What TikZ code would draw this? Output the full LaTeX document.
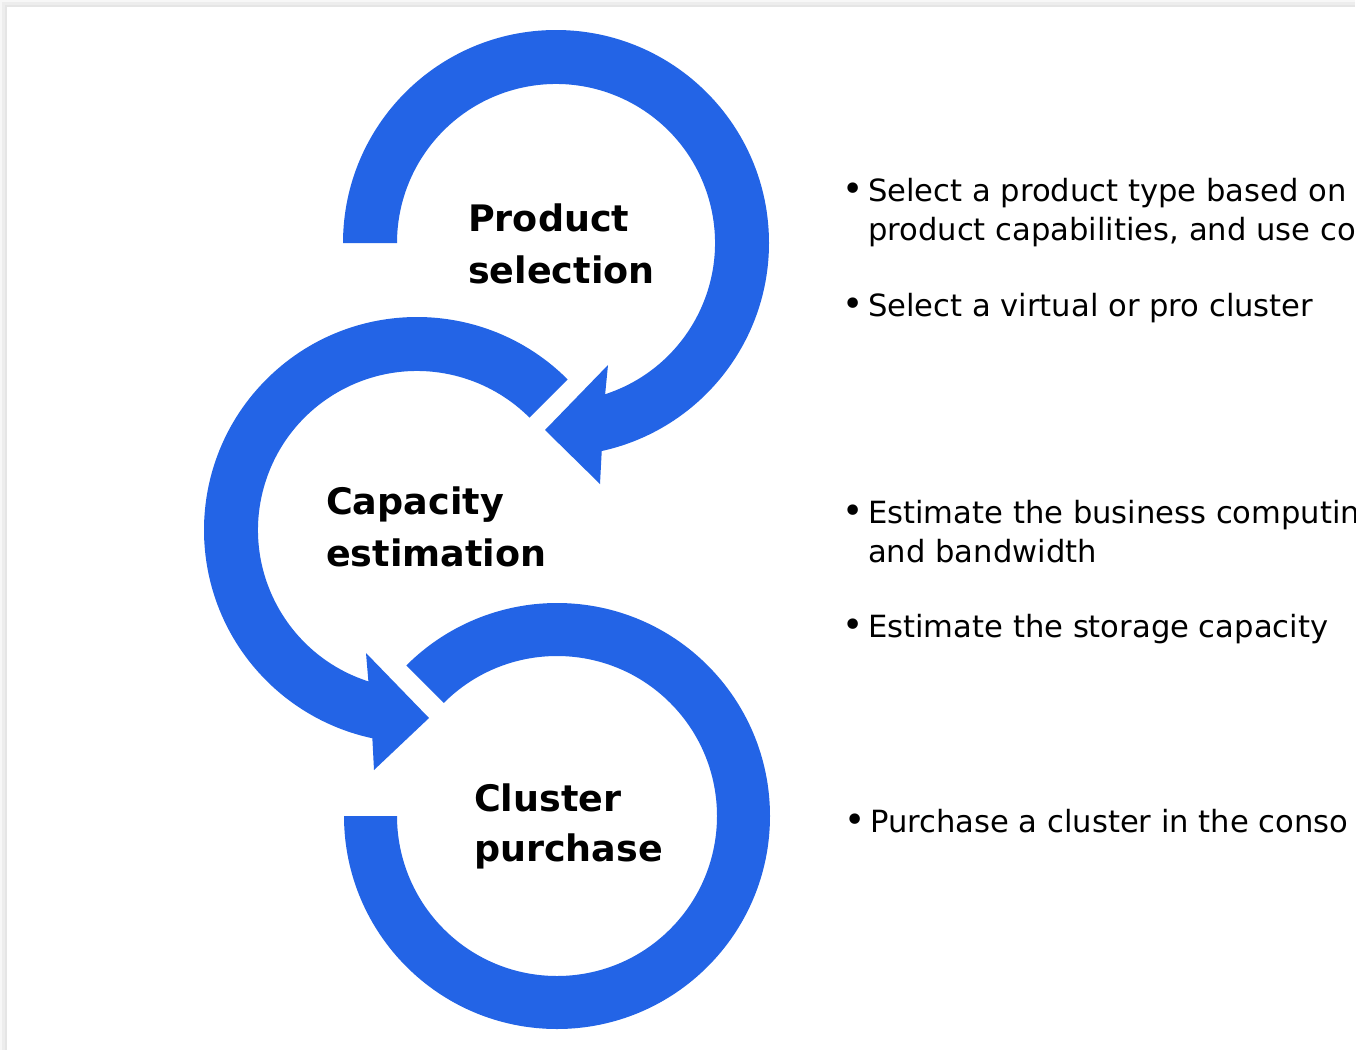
\documentclass[tikz,border=0pt]{standalone}
\usepackage{fontspec}
\setmainfont{DejaVu Sans}
\usetikzlibrary{calc}
\definecolor{ringblue}{RGB}{35,100,230}
\begin{document}
\begin{tikzpicture}[x=1pt,y=-1pt,
  ring/.style={fill=ringblue},
  title/.style={anchor=base west,inner sep=0pt,font=\fontsize{36.5}{52}\selectfont\bfseries},
  item/.style={anchor=base west,inner sep=0pt,font=\fontsize{30.6}{39}\selectfont},
  dot/.style={anchor=base,inner sep=0pt,font=\fontsize{36}{39}\selectfont}]
\useasboundingbox (0,0) rectangle (1366,1050);
% card and its shadow
\fill[black!3] (0,0) rectangle (1355,1050);
\fill[black!7] (2,2) rectangle (1355,1050);
\fill[black!10] (5,5) rectangle (1355,1050);
\fill[white] (7,7) rectangle (1355,1050);

\coordinate (c1) at (556,243);
\coordinate (c2) at (417,530);
\coordinate (c3) at (557,816);

% first ring, head pointing left
\fill[ring] ($(c1)+(-180:213)$) arc[start angle=-180, end angle=77.6, radius=213]
  -- (600,484) -- (545,430) -- (608,365) -- ($(c1)+(72:159)$)
  arc[start angle=72, end angle=-180, radius=159] -- cycle;
% second ring, head pointing right
\fill[ring] ($(c2)+(-45:213)$) arc[start angle=-45, end angle=-257.9, radius=213]
  -- (374,770) -- (429,718) -- (366,653) -- ($(c2)+(-252.2:159)$)
  arc[start angle=-252.2, end angle=-45, radius=159] -- cycle;
% third ring
\fill[ring] ($(c3)+(180:213)$) arc[start angle=180, end angle=-135, radius=213]
  -- ($(c3)+(-135:160)$) arc[start angle=-135, end angle=180, radius=160] -- cycle;

\node[title] (prod) at (468,231) {Product};
\node[title] (sel) at (468,283) {selection};
\node[title] (cap) at (326,514) {Capacity};
\node[title] (est) at (326,566) {estimation};
\node[title] (clu) at (474,811) {Cluster};
\node[title] (pur) at (474,861) {purchase};

\begin{scope}
\clip (7,7) rectangle (1355,1050);
\node[dot] (b1) at (853,201) {•};
\node[item] (i1) at (868,201) {Select a product type based on};
\node[item] (i1b) at (868,240) {product capabilities, and use co};
\node[dot] (b2) at (853,316) {•};
\node[item] (i2) at (868,316) {Select a virtual or pro cluster};
\node[dot] (b3) at (853,523) {•};
\node[item] (i3) at (868,523) {Estimate the business computin};
\node[item] (i3b) at (868,562) {and bandwidth};
\node[dot] (b4) at (853,637) {•};
\node[item] (i4) at (868,637) {Estimate the storage capacity};
\node[dot] (b5) at (855,832) {•};
\node[item] (i5) at (870,832) {Purchase a cluster in the conso};
\end{scope}
\end{tikzpicture}
\end{document}
